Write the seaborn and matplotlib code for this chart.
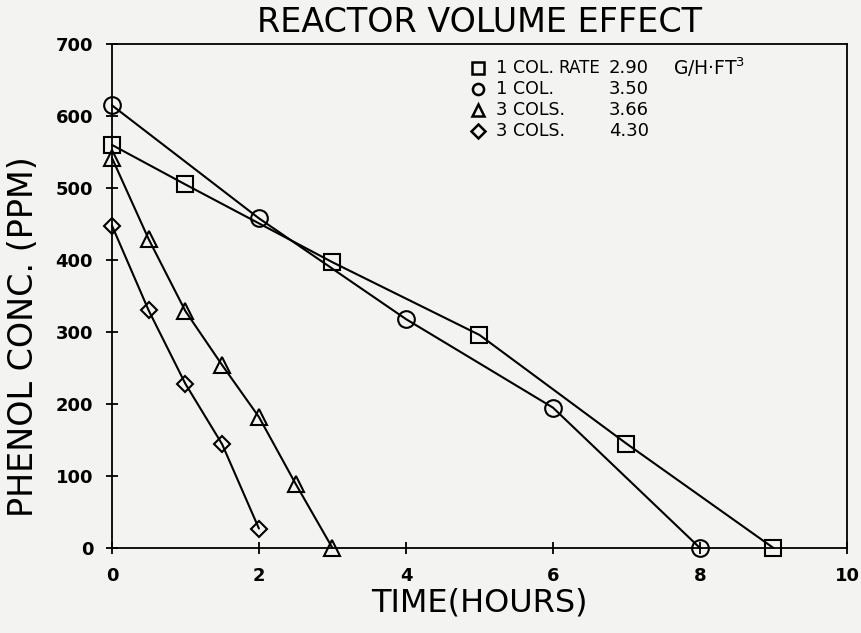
import matplotlib
matplotlib.use("Agg")
import matplotlib.pyplot as plt
import seaborn as sns
import pandas as pd

# Measured phenol concentration (ppm) versus time (hours)
time_sq = [0, 1, 3, 5, 7, 9]
conc_sq = [560, 505, 397, 296, 145, 0]

time_ci = [0, 2, 4, 6, 8]
conc_ci = [615, 458, 318, 195, 0]

time_tr = [0, 0.5, 1, 1.5, 2, 2.5, 3]
conc_tr = [542, 429, 329, 254, 182, 89, 0]

time_di = [0, 0.5, 1, 1.5, 2]
conc_di = [448, 330, 228, 144, 27]

# Legend entries: column count, description, rate
leg_count = ["1", "1", "3", "3"]
leg_desc = ["COL.", "COL.", "COLS.", "COLS."]
leg_rate = ["2.90", "3.50", "3.66", "4.30"]
leg_markers = ["s", "o", "^", "D"]

x_ticks = [0, 2, 4, 6, 8, 10]
y_ticks = [0, 100, 200, 300, 400, 500, 600, 700]

series = [
    (time_sq, conc_sq, "s", 11),
    (time_ci, conc_ci, "o", 12),
    (time_tr, conc_tr, "^", 11),
    (time_di, conc_di, "D", 8),
]

sns.set_style("white")
plt.rcParams["font.family"] = ["DejaVu Sans"]
plt.rcParams["text.color"] = "black"
plt.rcParams["axes.labelcolor"] = "black"
plt.rcParams["xtick.color"] = "black"
plt.rcParams["ytick.color"] = "black"

bg = "#f3f3f1"
fig = plt.figure(figsize=(8.61, 6.33), dpi=100, facecolor=bg)
ax = fig.add_axes([0.130, 0.1343, 0.8537, 0.796])
ax.set_facecolor(bg)

for t, c, m, ms in series:
    df = pd.DataFrame({"time": t, "conc": c})
    sns.lineplot(data=df, x="time", y="conc", ax=ax, color="black", lw=1.5,
                 marker=m, markersize=ms, markerfacecolor="none",
                 markeredgecolor="black", markeredgewidth=1.5,
                 estimator=None, sort=False, legend=False)

for ln in ax.lines:
    ln.set_markerfacecolor("none")
    ln.set_markeredgecolor("black")
    ln.set_clip_on(False)

ax.set_xlim(0, 10)
ax.set_ylim(0, 700)
ax.set_xticks(x_ticks)
ax.set_yticks(y_ticks)
ax.tick_params(bottom=True, left=True, direction="inout", length=9,
               width=1.3, color="black", labelcolor="black",
               labelsize=13, pad=9)
for lbl in ax.get_xticklabels() + ax.get_yticklabels():
    lbl.set_fontweight("semibold")
for sp in ax.spines.values():
    sp.set_color("black")
    sp.set_linewidth(1.3)

ax.set_xlabel("TIME(HOURS)", fontsize=23, labelpad=2)
ax.set_ylabel("PHENOL CONC. (PPM)", fontsize=24, labelpad=8)
ax.yaxis.set_label_coords(-0.098, 0.42)
ax.set_title("REACTOR VOLUME EFFECT", fontsize=24, pad=9)

# Hand-laid legend block in axes coordinates
row_y = [0.952, 0.911, 0.869, 0.827]
for i in range(4):
    y = row_y[i]
    ms = 7 if leg_markers[i] == "D" else 8
    ax.plot([0.498], [y], marker=leg_markers[i], ms=ms, mfc="none",
            mec="black", mew=1.8, transform=ax.transAxes, clip_on=False)
    ax.text(0.522, y, leg_count[i], transform=ax.transAxes, va="center",
            ha="left", fontsize=13)
    ax.text(0.546, y, leg_desc[i], transform=ax.transAxes, va="center",
            ha="left", fontsize=12.5)
    ax.text(0.676, y, leg_rate[i], transform=ax.transAxes, va="center",
            ha="left", fontsize=13)
ax.text(0.608, row_y[0], "RATE", transform=ax.transAxes, va="center",
        ha="left", fontsize=12)
ax.text(0.763, row_y[0] + 0.003, "G/H\u00b7FT$^3$", transform=ax.transAxes,
        va="center", ha="left", fontsize=13.5)

fig.savefig("out.png", dpi=100, facecolor=bg)
